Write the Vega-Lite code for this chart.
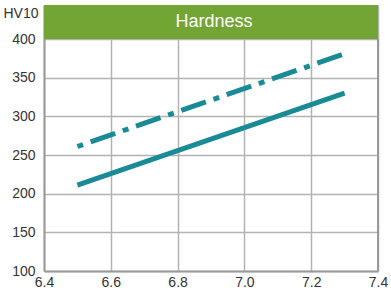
{
  "$schema": "https://vega.github.io/schema/vega-lite/v6.json",
  "width": 334,
  "height": 266,
  "autosize": {"type": "none"},
  "padding": {"left": 44, "top": 5, "right": 13, "bottom": 25},
  "background": "white",
  "config": {
    "view": {"stroke": null},
    "font": "Liberation Sans",
    "axis": {"labelFont": "Liberation Sans", "labelFontSize": 14, "labelColor": "#333333", "titleFont": "Liberation Sans", "titleFontWeight": "normal", "titleFontSize": 14, "titleColor": "#333333"}
  },
  "datasets": {
    "lines": [
      {"pH": 6.5, "hv": 211, "series": "solid"},
      {"pH": 7.3, "hv": 330, "series": "solid"},
      {"pH": 6.5, "hv": 261, "series": "dashdot"},
      {"pH": 7.3, "hv": 381, "series": "dashdot"}
    ],
    "banner": [{"x1": 6.4, "x2": 7.4, "y1": 400, "y2": 444, "xm": 6.9, "ym": 422, "label": "Hardness"}]
  },
  "layer": [
    {
      "data": {"name": "banner"},
      "mark": {"type": "rule", "color": "#999999", "strokeWidth": 2},
      "encoding": {
        "x": {"datum": 7.4, "type": "quantitative", "scale": {"domain": [6.4, 7.4], "nice": false, "zero": false},
          "axis": {"values": [6.4, 6.6, 6.8, 7.0, 7.2, 7.4], "format": ".1f", "grid": true, "gridColor": "#b3b3b3", "gridWidth": 1.5, "ticks": false, "domainColor": "#999999", "domainWidth": 2, "labelPadding": 4, "title": null, "labelFlush": false}},
        "y": {"datum": 100, "type": "quantitative", "scale": {"domain": [100, 444], "nice": false, "zero": false},
          "axis": {"values": [100, 150, 200, 250, 300, 350, 400], "grid": true, "gridColor": "#b3b3b3", "gridWidth": 1.5, "ticks": false, "domainColor": "#999999", "domainWidth": 2, "labelPadding": 9, "title": "HV10", "titleAngle": 0, "titleAlign": "left", "titleBaseline": "middle", "titleX": -41, "titleY": 8, "labelFlush": false}},
        "y2": {"datum": 400}
      }
    },
    {
      "data": {"name": "banner"},
      "mark": {"type": "rect", "color": "#73a534"},
      "encoding": {
        "x": {"field": "x1", "type": "quantitative"},
        "x2": {"field": "x2"},
        "y": {"field": "y1", "type": "quantitative"},
        "y2": {"field": "y2"}
      }
    },
    {
      "data": {"name": "banner"},
      "mark": {"type": "text", "color": "white", "fontSize": 18, "font": "Liberation Sans", "dx": 3, "baseline": "middle"},
      "encoding": {
        "x": {"field": "xm", "type": "quantitative"},
        "y": {"field": "ym", "type": "quantitative"},
        "text": {"field": "label"}
      }
    },
    {
      "data": {"name": "lines"},
      "transform": [{"filter": "datum.series === 'solid'"}],
      "mark": {"type": "line", "color": "#1a8a96", "strokeWidth": 5, "strokeCap": "butt"},
      "encoding": {
        "x": {"field": "pH", "type": "quantitative"},
        "y": {"field": "hv", "type": "quantitative"}
      }
    },
    {
      "data": {"name": "lines"},
      "transform": [{"filter": "datum.series === 'dashdot'"}],
      "mark": {"type": "line", "color": "#1a8a96", "strokeWidth": 5, "strokeCap": "butt", "strokeDash": [26, 8, 6, 8], "strokeDashOffset": 34},
      "encoding": {
        "x": {"field": "pH", "type": "quantitative"},
        "y": {"field": "hv", "type": "quantitative"}
      }
    }
  ]
}
